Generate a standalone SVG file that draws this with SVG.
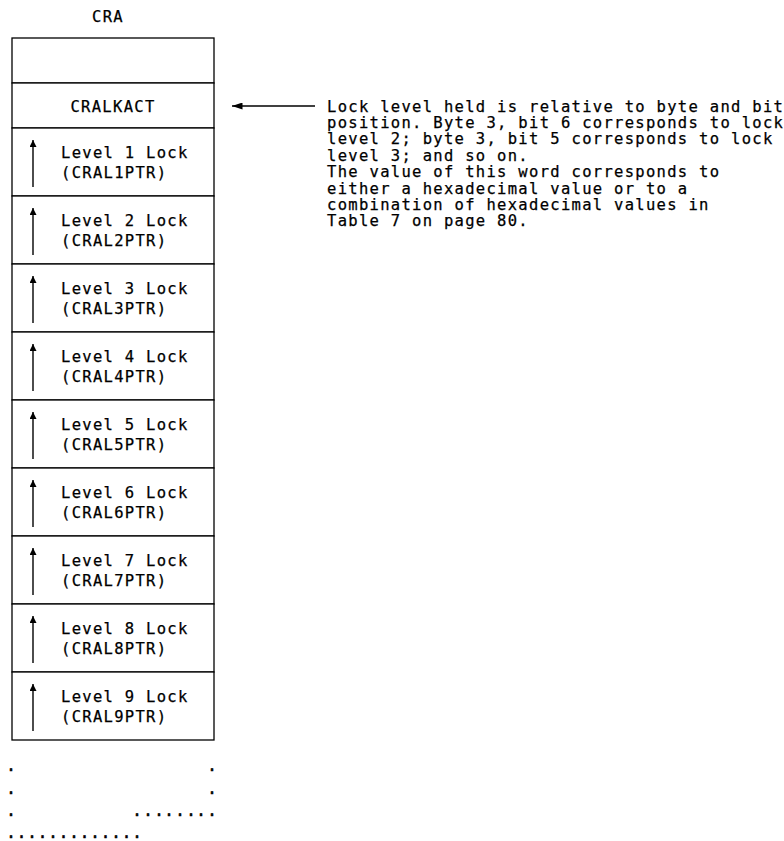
<svg xmlns="http://www.w3.org/2000/svg" width="784" height="841" viewBox="0 0 784 841">
  <defs>
    <style>
      .t { font-family: "DejaVu Sans Mono", "Liberation Mono", monospace; font-size: 15.5px; letter-spacing: 1.3px; fill: #000; stroke: #000; stroke-width: 0.25; }
      .mid { text-anchor: middle; }
      .cell { fill: #fff; stroke: #000; stroke-width: 1.3; }
      .ptr { stroke: #000; stroke-width: 1.4; fill: none; }
      .dot { font-family: "DejaVu Sans Mono", "Liberation Mono", monospace; font-size: 15px; text-anchor: middle; fill: #000; stroke: #000; stroke-width: 0.6; }
    </style>
    <marker id="up" viewBox="0 0 10 10" refX="10" refY="5" markerWidth="9" markerHeight="7" markerUnits="userSpaceOnUse" orient="auto">
      <path d="M0,0 L10,5 L0,10 Z" fill="#000"/>
    </marker>
    <marker id="left" viewBox="0 0 12 8" refX="12" refY="4" markerWidth="12" markerHeight="7" markerUnits="userSpaceOnUse" orient="auto">
      <path d="M0,0 L12,4 L0,8 Z" fill="#000"/>
    </marker>
  </defs>
  <rect width="784" height="841" fill="#fff"/>

  <text class="t mid" x="108" y="21.5">CRA</text>

  <!-- CRA control block words -->
  <g id="word0"><rect class="cell" x="12" y="38" width="202" height="45"/></g>
  <g id="cralkact"><rect class="cell" x="12" y="83" width="202" height="45"/>
    <text class="t mid" x="113" y="111.5">CRALKACT</text></g>

  <g id="lvl1"><rect class="cell" x="12" y="128" width="202" height="68"/>
    <line class="ptr" x1="33" y1="187" x2="33" y2="140" marker-end="url(#up)"/>
    <text class="t" x="61" y="157.5">Level 1 Lock</text>
    <text class="t" x="61" y="177.5">(CRAL1PTR)</text></g>
  <g id="lvl2"><rect class="cell" x="12" y="196" width="202" height="68"/>
    <line class="ptr" x1="33" y1="255" x2="33" y2="208" marker-end="url(#up)"/>
    <text class="t" x="61" y="225.5">Level 2 Lock</text>
    <text class="t" x="61" y="245.5">(CRAL2PTR)</text></g>
  <g id="lvl3"><rect class="cell" x="12" y="264" width="202" height="68"/>
    <line class="ptr" x1="33" y1="323" x2="33" y2="276" marker-end="url(#up)"/>
    <text class="t" x="61" y="293.5">Level 3 Lock</text>
    <text class="t" x="61" y="313.5">(CRAL3PTR)</text></g>
  <g id="lvl4"><rect class="cell" x="12" y="332" width="202" height="68"/>
    <line class="ptr" x1="33" y1="391" x2="33" y2="344" marker-end="url(#up)"/>
    <text class="t" x="61" y="361.5">Level 4 Lock</text>
    <text class="t" x="61" y="381.5">(CRAL4PTR)</text></g>
  <g id="lvl5"><rect class="cell" x="12" y="400" width="202" height="68"/>
    <line class="ptr" x1="33" y1="459" x2="33" y2="412" marker-end="url(#up)"/>
    <text class="t" x="61" y="429.5">Level 5 Lock</text>
    <text class="t" x="61" y="449.5">(CRAL5PTR)</text></g>
  <g id="lvl6"><rect class="cell" x="12" y="468" width="202" height="68"/>
    <line class="ptr" x1="33" y1="527" x2="33" y2="480" marker-end="url(#up)"/>
    <text class="t" x="61" y="497.5">Level 6 Lock</text>
    <text class="t" x="61" y="517.5">(CRAL6PTR)</text></g>
  <g id="lvl7"><rect class="cell" x="12" y="536" width="202" height="68"/>
    <line class="ptr" x1="33" y1="595" x2="33" y2="548" marker-end="url(#up)"/>
    <text class="t" x="61" y="565.5">Level 7 Lock</text>
    <text class="t" x="61" y="585.5">(CRAL7PTR)</text></g>
  <g id="lvl8"><rect class="cell" x="12" y="604" width="202" height="68"/>
    <line class="ptr" x1="33" y1="663" x2="33" y2="616" marker-end="url(#up)"/>
    <text class="t" x="61" y="633.5">Level 8 Lock</text>
    <text class="t" x="61" y="653.5">(CRAL8PTR)</text></g>
  <g id="lvl9"><rect class="cell" x="12" y="672" width="202" height="68"/>
    <line class="ptr" x1="33" y1="731" x2="33" y2="684" marker-end="url(#up)"/>
    <text class="t" x="61" y="701.5">Level 9 Lock</text>
    <text class="t" x="61" y="721.5">(CRAL9PTR)</text></g>

  <!-- continuation dots -->
  <g id="continuation">
    <text class="dot" x="11 212" y="771">..</text>
    <text class="dot" x="11 212" y="793.5">..</text>
    <text class="dot" x="11 137 148 159 169 180 191 201 212" y="816">.........</text>
    <text class="dot" x="11 21.5 32 42.5 53 63.5 74 84.5 95 105.5 116 126.5 137" y="837.5">.............</text>
  </g>

  <!-- note on CRALKACT -->
  <g id="note">
    <text class="t" x="327" y="111.5">Lock level held is relative to byte and bit</text>
    <text class="t" x="327" y="127.9">position. Byte 3, bit 6 corresponds to lock</text>
    <text class="t" x="327" y="144.3">level 2; byte 3, bit 5 corresponds to lock</text>
    <text class="t" x="327" y="160.7">level 3; and so on.</text>
    <text class="t" x="327" y="177.1">The value of this word corresponds to</text>
    <text class="t" x="327" y="193.5">either a hexadecimal value or to a</text>
    <text class="t" x="327" y="209.9">combination of hexadecimal values in</text>
    <text class="t" x="327" y="226.3">Table 7 on page 80.</text>
  </g>

  <g id="connectors">
    <line class="ptr" x1="315" y1="106" x2="232" y2="106" marker-end="url(#left)"/>
  </g>
</svg>
